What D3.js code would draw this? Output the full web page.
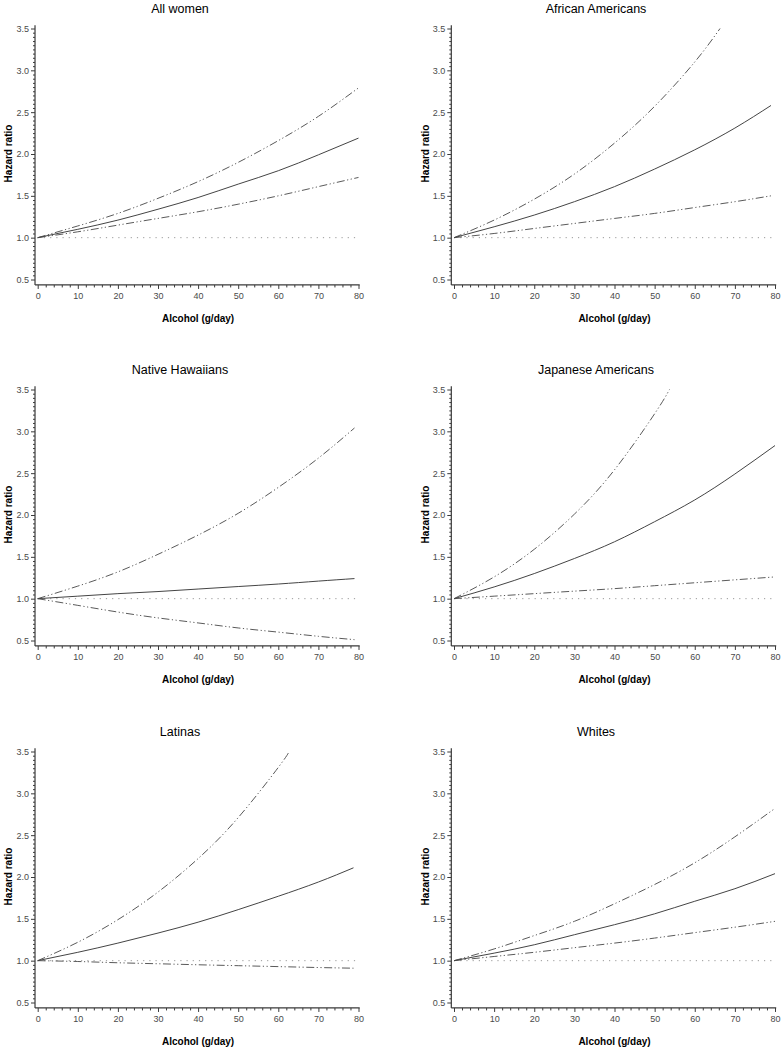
<!DOCTYPE html>
<html><head><meta charset="utf-8">
<script src="https://cdn.jsdelivr.net/npm/d3@7"></script>
<style>
body{margin:0;background:#fff;}
svg{display:block;font-family:"Liberation Sans",Arial,sans-serif;}
</style></head>
<body>
<svg id="chart" width="784" height="1050"></svg>
<script>
// ---- data ----
const panelTitles = ["All women","African Americans","Native Hawaiians","Japanese Americans","Latinas","Whites"];
const xTickValues = [0,10,20,30,40,50,60,70,80];
const yTickValues = [0.5,1.0,1.5,2.0,2.5,3.0,3.5];
const yTickLabels = ["0.5","1.0","1.5","2.0","2.5","3.0","3.5"];
const xLabel = "Alcohol (g/day)";
const yLabel = "Hazard ratio";

const alcohol80 = [0,10,20,30,40,50,60,70,80];
const alcohol79 = [0,10,20,30,40,50,60,70,79];

const allWomenHR    = [1.00,1.10,1.21,1.34,1.48,1.64,1.80,1.99,2.19];
const allWomenLower = [1.00,1.07,1.15,1.23,1.31,1.40,1.50,1.61,1.72];
const allWomenUpper = [1.00,1.14,1.29,1.47,1.67,1.90,2.16,2.45,2.79];

const afrAmHR    = [1.00,1.13,1.27,1.43,1.61,1.82,2.05,2.31,2.58];
const afrAmLower = [1.00,1.05,1.11,1.17,1.23,1.29,1.36,1.43,1.50];
const afrAmUpperX = [0,10,20,30,40,50,60,66.3];
const afrAmUpper  = [1.00,1.21,1.46,1.76,2.13,2.57,3.10,3.50];

const hawaiianHR    = [1.00,1.03,1.06,1.085,1.115,1.145,1.175,1.21,1.24];
const hawaiianLower = [1.00,0.92,0.84,0.77,0.71,0.65,0.60,0.55,0.51];
const hawaiianUpper = [1.00,1.15,1.32,1.53,1.76,2.02,2.33,2.68,3.04];

const japAmHR    = [1.00,1.14,1.30,1.48,1.68,1.92,2.18,2.49,2.83];
const japAmLower = [1.00,1.03,1.06,1.09,1.12,1.155,1.19,1.225,1.26];
const japAmUpperX = [0,10,20,30,40,50,53.7];
const japAmUpper  = [1.00,1.26,1.59,2.01,2.54,3.21,3.50];

const latinaX     = [0,10,20,30,40,50,60,70,78.75];
const latinaHR    = [1.00,1.10,1.21,1.33,1.46,1.61,1.77,1.94,2.11];
const latinaLower = [1.00,0.99,0.975,0.963,0.951,0.94,0.929,0.918,0.91];
const latinaUpperX = [0,10,20,30,40,50,60,62.7];
const latinaUpper  = [1.00,1.22,1.49,1.82,2.22,2.71,3.31,3.50];

const whitesHR    = [1.00,1.09,1.19,1.31,1.43,1.56,1.71,1.86,2.04];
const whitesLower = [1.00,1.05,1.10,1.155,1.21,1.27,1.335,1.40,1.47];
const whitesUpper = [1.00,1.14,1.30,1.47,1.68,1.91,2.17,2.48,2.82];

function zip(xs, ys){ return xs.map((x,i)=>[x, ys[i]]); }

const panels = [
  {title:panelTitles[0], hr:zip(alcohol80,allWomenHR), lo:zip(alcohol80,allWomenLower), hi:zip(alcohol80,allWomenUpper)},
  {title:panelTitles[1], hr:zip(alcohol79,afrAmHR), lo:zip(alcohol79,afrAmLower), hi:zip(afrAmUpperX,afrAmUpper)},
  {title:panelTitles[2], hr:zip(alcohol79,hawaiianHR), lo:zip(alcohol79,hawaiianLower), hi:zip(alcohol79,hawaiianUpper)},
  {title:panelTitles[3], hr:zip(alcohol80,japAmHR), lo:zip(alcohol80,japAmLower), hi:zip(japAmUpperX,japAmUpper)},
  {title:panelTitles[4], hr:zip(latinaX,latinaHR), lo:zip(latinaX,latinaLower), hi:zip(latinaUpperX,latinaUpper)},
  {title:panelTitles[5], hr:zip(alcohol80,whitesHR), lo:zip(alcohol80,whitesLower), hi:zip(alcohol80,whitesUpper)}
];

// ---- layout ----
const colX = [[37.7,358.5],[454,775]];
const colCenter = [180, 596];
const rowTop = [28.5, 389.5, 751.5];
const plotH = 251;

const svg = d3.select("#chart");
const axisColor = "#3a3a3a";
const labelColor = "#4a4a4a";

panels.forEach((p, i) => {
  const col = i % 2, row = Math.floor(i / 2);
  const x = d3.scaleLinear().domain([0,80]).range(colX[col]);
  const y = d3.scaleLinear().domain([0.5,3.5]).range([rowTop[row]+plotH, rowTop[row]]);
  const g = svg.append("g");

  const xMin = -0.67, xMax = 80.3, yMin = 0.435, yMax = 3.54;

  // reference line at 1.0
  g.append("line")
    .attr("x1", x(0)).attr("x2", x(80))
    .attr("y1", y(1)).attr("y2", y(1))
    .attr("stroke", "#999").attr("stroke-width", 1)
    .attr("stroke-dasharray", "1.2,5");

  // minor ticks
  const yMinor = d3.range(0.5, 3.5001, 0.05).map(v => +v.toFixed(2)).filter(v => Math.abs(v*2 - Math.round(v*2)) > 1e-6);
  const xMinor = d3.range(0, 80.001, 2).filter(v => v % 10 !== 0);

  const yAxisMinor = g.append("g").attr("transform", `translate(${x(xMin)},0)`)
    .call(d3.axisLeft(y).tickValues(yMinor).tickSize(2).tickFormat(""));
  const yAxisMajor = g.append("g").attr("transform", `translate(${x(xMin)},0)`)
    .call(d3.axisLeft(y).tickValues(yTickValues).tickSize(4).tickPadding(2)
      .tickFormat((d,k) => yTickLabels[k]));
  const xAxisMinor = g.append("g").attr("transform", `translate(0,${y(yMin)})`)
    .call(d3.axisBottom(x).tickValues(xMinor).tickSize(2.5).tickFormat(""));
  const xAxisMajor = g.append("g").attr("transform", `translate(0,${y(yMin)})`)
    .call(d3.axisBottom(x).tickValues(xTickValues).tickSize(4).tickPadding(4).tickFormat(d3.format("d")));

  [yAxisMinor, yAxisMajor, xAxisMinor, xAxisMajor].forEach(a => {
    a.select(".domain").remove();
    a.selectAll(".tick line").attr("stroke", axisColor).attr("stroke-width", 1);
    a.selectAll(".tick text").attr("fill", labelColor).style("font-size", "9px")
      .style("font-family", "'Liberation Sans', Arial, sans-serif");
  });

  // axis lines
  g.append("line").attr("x1", x(xMin)).attr("x2", x(xMin))
    .attr("y1", y(yMax)).attr("y2", y(yMin))
    .attr("stroke", axisColor).attr("stroke-width", 1.2);
  g.append("line").attr("x1", x(xMin)).attr("x2", x(xMax))
    .attr("y1", y(yMin)).attr("y2", y(yMin))
    .attr("stroke", axisColor).attr("stroke-width", 1.2);

  const line = d3.line().x(d => x(d[0])).y(d => y(d[1])).curve(d3.curveNatural);

  // confidence limits
  [p.lo, p.hi].forEach(s => {
    g.append("path").attr("d", line(s))
      .attr("fill", "none").attr("stroke", "#5a5a5a").attr("stroke-width", 1)
      .attr("stroke-dasharray", "8,2.5,1.2,2.5,1.2,2.5");
  });
  // hazard ratio
  g.append("path").attr("d", line(p.hr))
    .attr("fill", "none").attr("stroke", "#444").attr("stroke-width", 1);

  // title
  g.append("text").attr("x", colCenter[col]).attr("y", rowTop[row] - 19.5)
    .attr("text-anchor", "middle").attr("dominant-baseline", "central")
    .attr("fill", "#000").style("font-size", "12.5px").text(p.title);

  // x label
  g.append("text").attr("x", (colX[col][0] + colX[col][1]) / 2).attr("y", rowTop[row] + plotH + 39)
    .attr("text-anchor", "middle").attr("dominant-baseline", "central")
    .attr("fill", "#000").style("font-size", "10px").style("font-weight", "bold").text(xLabel);

  // y label
  const yl = col === 0 ? 8.5 : 425;
  const yc = rowTop[row] + 125;
  g.append("text").attr("transform", `translate(${yl},${yc}) rotate(-90)`)
    .attr("text-anchor", "middle").attr("dominant-baseline", "central")
    .attr("fill", "#000").style("font-size", "10px").style("font-weight", "bold").text(yLabel);
});
</script>
</body></html>
